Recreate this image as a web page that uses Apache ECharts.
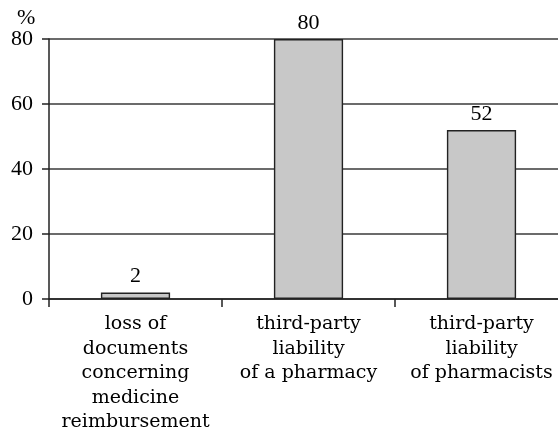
<!DOCTYPE html>
<html>
<head>
<meta charset="utf-8">
<script src="https://cdn.jsdelivr.net/npm/echarts@6/dist/echarts.min.js"></script>
<style>
  html, body { margin: 0; padding: 0; background: #fff; }
  #chart { width: 558px; height: 434px; }
</style>
</head>
<body>
<div id="chart"></div>
<script>
// chart data
const categories = [
  'loss of\ndocuments\nconcerning\nmedicine\nreimbursement',
  'third-party\nliability\nof a pharmacy',
  'third-party\nliability\nof pharmacists'
]
const values = [2, 80, 52]
const yTicks = [0, 20, 40, 60, 80]

const textFont = 'DejaVu Serif'
const numFont = 'Liberation Serif'

const chart = echarts.init(document.getElementById('chart'))

chart.setOption({
  animation: false,
  grid: {
    left: 49,
    top: 39,
    width: 519,
    height: 260,
    outerBoundsMode: 'none',
    containLabel: false
  },
  graphic: [
    {
      type: 'text',
      left: 17,
      top: 7,
      style: { text: '%', font: '22px ' + numFont, fill: '#000' }
    }
  ],
  xAxis: {
    type: 'category',
    data: categories,
    axisLine: { lineStyle: { color: '#222', width: 1.5 } },
    axisTick: { show: true, length: 8, lineStyle: { color: '#222', width: 1.5 } },
    axisLabel: {
      fontFamily: textFont,
      fontSize: 19,
      color: '#000',
      lineHeight: 24.5,
      margin: 13,
      interval: 0
    },
    splitLine: { show: false }
  },
  yAxis: {
    type: 'value',
    min: yTicks[0],
    max: yTicks[yTicks.length - 1],
    interval: 20,
    axisLine: { show: true, lineStyle: { color: '#222', width: 1.5 } },
    axisTick: { show: true, length: 7, lineStyle: { color: '#222', width: 1.5 } },
    axisLabel: {
      fontFamily: numFont,
      fontSize: 22,
      color: '#000',
      margin: 16
    },
    splitLine: { show: true, lineStyle: { color: '#3a3a3a', width: 1.6 } }
  },
  series: [
    {
      type: 'bar',
      data: values,
      barWidth: '40%',
      itemStyle: {
        color: '#c8c8c8',
        borderColor: '#222',
        borderWidth: 1.4
      },
      label: {
        show: true,
        position: 'top',
        distance: 5,
        fontFamily: numFont,
        fontSize: 22,
        color: '#000'
      }
    }
  ]
})
</script>
</body>
</html>
